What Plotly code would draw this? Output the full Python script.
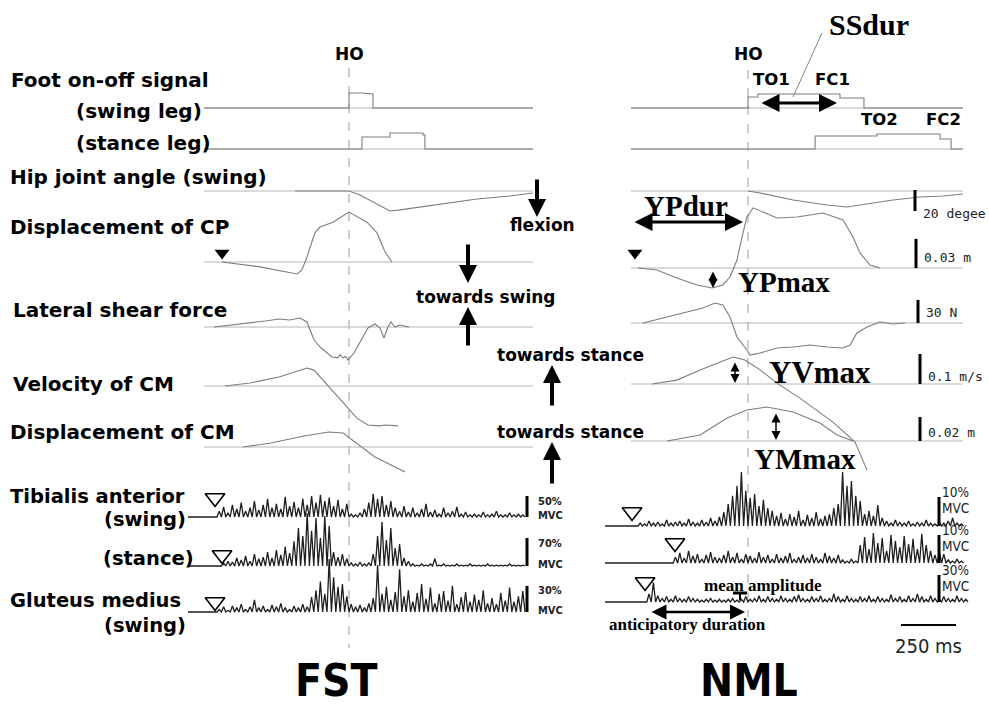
import plotly.graph_objects as go

# ---------------------------------------------------------------- data
PX_PER_MS = 0.22      # horizontal time scale (px per ms)
BIN_MS = 20           # EMG bin width
BAR_MS = 250          # time scale bar

# foot on-off signals (ms from heel-off, level a.u.)
FST_SWING_T = [-659, 0, 0, 60, 109, 109, 836]
FST_SWING_V = [0, 0, 1.0, 1.0, 0.93, 0, 0]
FST_STANCE_T = [-659, 59, 59, 186, 186, 336, 336, 345, 345, 836]
FST_STANCE_V = [0, 0, 0.8, 0.8, 1.07, 1.07, 0.93, 0.93, 0, 0]
NML_SWING_T = [-532, 0, 0, 45, 45, 418, 418, 527, 527, 977]
NML_SWING_V = [0, 0, 0.73, 0.73, 0.93, 0.93, 0.67, 0.67, 0, 0]
NML_STANCE_T = [-532, 305, 305, 586, 586, 873, 873, 923, 923, 977]
NML_STANCE_V = [0, 0, 0.87, 0.87, 1.0, 1.0, 0.67, 0.67, 0, 0]

# hip joint angle (deg)
FST_HIP_T = [-245, 0, 50, 118, 186, 232, 382, 582, 732, 836]
FST_HIP_V = [0, 0, -3.8, -11.4, -19, -18, -13.3, -7.6, -4.8, -1.9]
NML_HIP_T = [0, 55, 205, 359, 450, 541, 659, 782, 886, 977]
NML_HIP_V = [0, -1.9, -8.6, -13.3, -15.2, -12.4, -8.6, -5.7, -4.8, -2.9]

# displacement of CP (cm)
FST_CP_T = [-577, -405, -236, -214, -191, -155, -132, -73, 0, 50, 82, 127, 164, 195]
FST_CP_V = [0, -0.5, -1.24, -0.82, 0.52, 3.0, 3.6, 4.1, 5.15, 4.5, 4.1, 3.0, 1.03, 0]
NML_CP_T = [-500, -414, -323, -232, -164, -114, -82, -50, -27, -5, 23, 68, 132, 223, 341, 432, 477, 509, 555, 600]
NML_CP_V = [0, -0.2, -1.03, -1.75, -2.06, -1.75, -0.93, 0.82, 3.2, 5.26, 6.2, 5.8, 5.15, 5.26, 5.67, 4.95, 3.2, 1.55, 0.31, 0]

# lateral shear force (N)
FST_LSF_T = [-614, -450, -380, -318, -270, -223, -191, -159, -127, -77, -50, -40, -27, -15, -5, 23, 55, 86, 118, 141, 159, 177, 191, 209, 232, 273]
FST_LSF_V = [0, 5.2, 7.8, 10.4, 9.1, 11.7, 6.5, -16.9, -27.3, -39, -40, -36, -40.3, -38, -42.9, -33.8, -16.9, -1.3, 3.9, -1.3, -14.3, 0, 6.5, 0, 2.6, 0]
NML_LSF_T = [-477, -368, -264, -205, -150, -114, -82, -50, -5, 9, 55, 132, 205, 282, 359, 432, 464, 495, 541, 600, 659, 714]
NML_LSF_V = [0, 7.8, 14.3, 19.5, 26, 23.4, 7.8, -18.2, -35, -41.6, -39, -32.5, -31.2, -28.6, -31.2, -32.5, -28.6, -13, -5.2, 1.3, -1.3, 0]

# velocity of CM (m/s)
FST_VCM_T = [-564, -450, -318, -191, -159, -91, -27, 36, 86, 136, 168, 223]
FST_VCM_V = [0, 0.01, 0.03, 0.06, 0.053, -0.003, -0.057, -0.107, -0.13, -0.133, -0.13, -0.133]
NML_VCM_T = [-436, -323, -218, -127, -68, -14, 55, 132, 236, 386, 486, 541]
NML_VCM_V = [0, 0.013, 0.047, 0.073, 0.09, 0.08, 0.047, 0.003, -0.047, -0.127, -0.193, -0.287]

# displacement of CM (cm)
FST_DCM_T = [-482, -355, -205, -91, -27, 36, 118, 255]
FST_DCM_V = [0, 0.33, 0.92, 1.25, 1.17, 0.33, -0.83, -2.08]
NML_DCM_T = [-368, -218, -95, -5, 86, 205, 327, 405, 477]
NML_DCM_V = [0, 0.5, 1.92, 2.58, 2.83, 2.42, 1.5, 0.5, 0]

# rectified EMG, peak amplitude per 20 ms bin (% MVC)
FST_TA_SWING_T0 = -600
FST_TA_SWING = [14, 24, 10, 29, 19, 34, 14, 22, 38, 17, 29, 43, 22, 31, 19, 48, 26, 36, 22,
                43, 29, 50, 34, 53, 38, 46, 26, 41, 19, 31,
                7, 5, 10,
                19, 34, 55, 43, 50, 29, 38, 22,
                14, 26, 12, 22, 10, 19, 31, 12, 17, 7, 22, 10, 14, 24, 7, 12, 5,
                7, 5, 12, 5, 7, 14, 5, 5, 10, 5, 7, 5]
FST_TA_STANCE_T0 = -580
FST_TA_STANCE = [8, 12, 10, 20, 15, 25, 12, 30, 18, 22, 35, 20, 40, 28, 48, 32,
                 62, 95, 75, 132, 88, 120, 70, 125, 100,
                 35, 22, 30, 18,
                 8, 5, 10, 5, 8,
                 30, 75, 110, 65, 95, 45, 55,
                 20, 12,
                 5, 2, 5, 2, 5, 18, 2, 5, 2, 2, 5, 2, 2, 5, 2, 2, 2, 5, 2, 2, 2, 2, 5, 2, 2, 2]
FST_GM_T0 = -600
FST_GM = [3, 6, 2, 7, 5, 9, 3, 6, 14, 5, 7, 3, 8, 6, 10, 5, 3, 7, 5, 9, 6,
          17, 25, 35, 21, 61, 40, 29, 32, 18,
          9, 6, 8, 5, 10,
          16, 54, 21, 29, 14, 23, 49, 18, 25, 12, 22, 32, 15, 28, 10, 21, 24, 13, 30, 9,
          17, 23, 12, 20, 14, 25, 10, 16, 9, 22, 13, 28, 12, 18, 24]
NML_TA_SWING_T0 = -500
NML_TA_SWING = [1.0, 0.7, 1.7, 1.0, 1.4, 0.7, 2.1, 1.0, 1.4, 1.7, 1.0, 2.4, 1.4, 1.0, 2.1, 1.4, 2.8, 1.7, 3.1,
                4.8, 7.6, 10.4, 13.8, 18.6,
                12.1, 9.7, 11.0, 6.9, 9.0, 6.2, 5.2,
                3.5, 4.5, 2.4, 4.1, 3.1, 5.2, 2.1, 3.8, 2.8, 4.8, 2.4, 3.5, 4.1, 6.2, 7.6,
                18.6, 13.8, 15.5, 10.4, 8.6,
                4.1, 5.2, 3.5, 7.2, 2.8,
                1.7, 1.0, 2.1, 1.4, 1.0, 1.7, 0.7, 1.4, 1.0, 2.1, 1.0, 0.7, 1.4, 1.0, 1.7, 2.8, 1.0, 0.7]
NML_TA_STANCE_T0 = -340
NML_TA_STANCE = [2.1, 3.6, 1.8, 4.3, 2.5, 3.2, 1.4, 2.9, 3.9, 2.1, 1.8,
                 2.9, 4.3, 2.1, 3.6, 1.4, 3.2, 2.5, 1.8, 3.9, 2.1, 2.9, 1.4, 3.2, 1.8, 2.5, 3.6, 1.4,
                 2.1, 2.9, 1.8, 3.2, 2.1, 1.4, 3.6, 2.5, 1.8, 2.9,
                 1.1, 0.7, 1.4, 0.7,
                 6.4, 9.3, 5.0, 10.7, 7.1, 8.9, 4.3, 10.0, 7.9, 5.7, 9.6, 6.8, 8.6, 5.0, 10.4, 6.4,
                 4.3, 2.9, 3.9, 3.2,
                 1.1, 0.7, 1.4, 0.7]
NML_GM_T0 = -460
NML_GM = [9, 22, 7, 4, 6, 3, 7, 4, 3, 6, 4, 3, 2, 3, 4, 2, 3, 2, 3, 4,
          2, 3, 6, 3, 4, 7, 3, 6, 4, 3, 7, 4, 3, 6, 8, 4, 3, 6, 4, 7,
          3, 4, 9, 6, 3, 7, 4, 3, 6, 4, 7, 3, 6, 4, 3, 8, 4, 6, 3, 7,
          4, 9, 6, 3, 7, 4, 3, 6, 4, 3, 7, 4, 3]

# onset markers (ms from heel-off)
FST_CP_ONSET = -577
NML_CP_ONSET = -514
FST_EMG_ONSET = dict(ta_sw=-609, ta_st=-577, gm=-609)
NML_EMG_ONSET = dict(ta_sw=-527, ta_st=-332, gm=-468)

# scale bars
NML_SCALE = [("hip", 20, "20 degee"), ("cp", 3, "0.03 m"), ("lsf", 30, "30 N"),
             ("vcm", 0.1, "0.1 m/s"), ("dcm", 2, "0.02 m")]
FST_EMG_SCALE = [("ta_sw", 50, "50%"), ("ta_st", 70, "70%"), ("gm", 30, "30%")]
NML_EMG_SCALE = [("ta_sw", 10, "10%"), ("ta_st", 10, "10%"), ("gm", 30, "30%")]

# ---------------------------------------------------------------- layout / style
SANS = "DejaVu Sans, Verdana, sans-serif"
SERIF = "Liberation Serif, Times New Roman, serif"
NARROW = "Liberation Sans Narrow, DejaVu Sans Condensed, Liberation Sans, sans-serif"
MONO = "DejaVu Sans Mono, Liberation Mono, monospace"
TRACE_C = "#7d7d7d"
BASE_C = "#b5b5b5"
EMG_C = "#1e1e1e"

PANELS = {
    "FST": dict(ho=349, t_range=(-659, 836), emg_lead=-732, dash=(68, 648),
                rows=dict(swing=108, stance=149, hip=191, cp=262, lsf=327, vcm=386, dcm=447,
                          ta_sw=517, ta_st=566, gm=612)),
    "NML": dict(ho=748, t_range=(-532, 977), emg_lead=-650, dash=(70, 617),
                rows=dict(swing=108, stance=149, hip=191, cp=268, lsf=323, vcm=384, dcm=441,
                          ta_sw=526, ta_st=563, gm=602)),
}
GAIN = dict(swing=15, stance=15, hip=1.05, cp=9.7, lsf=0.77, vcm=300, dcm=12)
EMG_GAIN = {"FST": dict(ta_sw=0.42, ta_st=0.40, gm=0.87),
            "NML": dict(ta_sw=2.9, ta_st=2.8, gm=0.9)}

SIGNALS = {
    "FST": dict(swing=(FST_SWING_T, FST_SWING_V), stance=(FST_STANCE_T, FST_STANCE_V),
                hip=(FST_HIP_T, FST_HIP_V), cp=(FST_CP_T, FST_CP_V), lsf=(FST_LSF_T, FST_LSF_V),
                vcm=(FST_VCM_T, FST_VCM_V), dcm=(FST_DCM_T, FST_DCM_V)),
    "NML": dict(swing=(NML_SWING_T, NML_SWING_V), stance=(NML_STANCE_T, NML_STANCE_V),
                hip=(NML_HIP_T, NML_HIP_V), cp=(NML_CP_T, NML_CP_V), lsf=(NML_LSF_T, NML_LSF_V),
                vcm=(NML_VCM_T, NML_VCM_V), dcm=(NML_DCM_T, NML_DCM_V)),
}
EMG = {
    "FST": dict(ta_sw=(FST_TA_SWING_T0, FST_TA_SWING), ta_st=(FST_TA_STANCE_T0, FST_TA_STANCE),
                gm=(FST_GM_T0, FST_GM)),
    "NML": dict(ta_sw=(NML_TA_SWING_T0, NML_TA_SWING), ta_st=(NML_TA_STANCE_T0, NML_TA_STANCE),
                gm=(NML_GM_T0, NML_GM)),
}

fig = go.Figure()


def tx(panel, t):
    return PANELS[panel]["ho"] + t * PX_PER_MS


def line(xs, ys, color, width, dash=None):
    fig.add_trace(go.Scatter(x=xs, y=ys, mode="lines", hoverinfo="skip", cliponaxis=False,
                             line=dict(color=color, width=width, dash=dash)))


for name, P in PANELS.items():
    rows = P["rows"]
    t0, t1 = P["t_range"]
    # heel-off dashed line
    line([P["ho"], P["ho"]], list(P["dash"]), "#c2c2c2", 1.6, "dash")
    # baselines
    for key in ["swing", "stance", "hip", "cp", "lsf", "vcm", "dcm"]:
        line([tx(name, t0), tx(name, t1)], [rows[key], rows[key]], BASE_C, 1.1)
    # analog signals
    for key, (ts, vs) in SIGNALS[name].items():
        line([tx(name, t) for t in ts], [rows[key] - v * GAIN[key] for v in vs], TRACE_C, 1.1)
    # EMG
    for key, (e0, vals) in EMG[name].items():
        g = EMG_GAIN[name][key]
        base = rows[key]
        xs = [tx(name, P["emg_lead"])]
        ys = [base]
        for i, v in enumerate(vals):
            ts = e0 + i * BIN_MS
            xs += [tx(name, ts), tx(name, ts + BIN_MS / 2)]
            ys += [base, base - v * g]
        xs.append(tx(name, e0 + len(vals) * BIN_MS))
        ys.append(base)
        line(xs, ys, EMG_C, 1.3)

# onset markers
fig.add_trace(go.Scatter(
    x=[tx("FST", FST_CP_ONSET), tx("NML", NML_CP_ONSET)],
    y=[PANELS["FST"]["rows"]["cp"] - 9, PANELS["NML"]["rows"]["cp"] - 15],
    mode="markers", hoverinfo="skip", cliponaxis=False,
    marker=dict(symbol="triangle-down", size=13, color="black")))
ox, oy = [], []
for name, ons, lift in [("FST", FST_EMG_ONSET, dict(ta_sw=19, ta_st=11, gm=10)),
                        ("NML", NML_EMG_ONSET, dict(ta_sw=14, ta_st=20, gm=20))]:
    for key, t in ons.items():
        ox.append(tx(name, t))
        oy.append(PANELS[name]["rows"][key] - lift[key])
fig.add_trace(go.Scatter(x=ox, y=oy, mode="markers", hoverinfo="skip", cliponaxis=False,
                         marker=dict(symbol="triangle-down-open", size=17, color="black",
                                     line=dict(width=1.6, color="black"))))

ann = []


def label(text, x, y, size, family=SANS, anchor="left", weight="bold", color="black"):
    ann.append(dict(text=text, x=x, y=y, xref="x", yref="y", showarrow=False,
                    xanchor=anchor, yanchor="middle", borderpad=0,
                    font=dict(family=family, size=size, color=color, weight=weight)))


def arrow(x0, y0, x1, y1, width, size, head=2, double=False):
    ann.append(dict(text="", x=x1, y=y1, ax=x0, ay=y0, xref="x", yref="y", axref="x", ayref="y",
                    showarrow=True, arrowhead=head, startarrowhead=head, arrowwidth=width,
                    arrowsize=size, startarrowsize=size, arrowcolor="black",
                    arrowside="end+start" if double else "end", standoff=0, startstandoff=0))


# scale bars (NML analog)
for key, val, txt in NML_SCALE:
    base = PANELS["NML"]["rows"][key]
    h = val * GAIN[key]
    xb = {"hip": 915, "cp": 916, "lsf": 918, "vcm": 920, "dcm": 920}[key]
    if key == "hip":
        line([xb, xb], [base - 1, base - 1 + h], "black", 3)
        label(txt, xb + 7, base + h + 1, 13, MONO, weight="normal", color="#222")
    else:
        line([xb, xb], [base, base - h], "black", 3)
        ty = {"cp": base - 11, "lsf": base - 11, "vcm": base - 8, "dcm": base - 9}[key]
        label(txt, xb + 7, ty, 13, MONO, weight="normal", color="#222")

# EMG scale bars
for name, scl, xb in [("FST", FST_EMG_SCALE, 527), ("NML", NML_EMG_SCALE, 939)]:
    for key, val, txt in scl:
        base = PANELS[name]["rows"][key]
        h = val * EMG_GAIN[name][key]
        line([xb, xb], [base, base - h], "black", 3)
        if name == "FST":
            label(txt, xb + 23, base - h + 5, 11, NARROW, anchor="center", color="#222")
            label("MVC", xb + 23, base - 2, 11, NARROW, anchor="center", color="#222")
        else:
            label(txt, xb + 16, base - h - 5, 13.5, NARROW, anchor="center", weight="normal", color="#222")
            label("MVC", xb + 16, base - h + 11, 13.5, NARROW, anchor="center", weight="normal", color="#222")

# time scale bar
bx1 = 956
line([bx1 - BAR_MS * PX_PER_MS, bx1], [625, 625], "black", 2)
label(f"{BAR_MS} ms", bx1 - BAR_MS * PX_PER_MS / 2, 646, 20, NARROW, anchor="center", weight="normal", color="#222")

# mean amplitude mark & SSdur leader
line([733, 747], [593, 593], "black", 3)
line([740, 740], [593, 600], "black", 2)
line([822, 793], [33, 97], "#888888", 1)

# left labels
label("Foot on-off signal", 10, 80, 20)
label("(swing leg)", 75, 111, 20)
label("(stance leg)", 75, 143, 20)
label("Hip joint angle (swing)", 9, 177, 20)
label("Displacement of CP", 9, 227, 20)
label("Lateral shear force", 12, 310, 20)
label("Velocity of CM", 12, 384, 20)
label("Displacement of CM", 9, 432, 20)
label("Tibialis anterior", 9, 496, 19.5)
label("(swing)", 103, 519, 19.5)
label("(stance)", 102, 558, 19.5)
label("Gluteus medius", 9, 600, 19.5)
label("(swing)", 103, 625, 19.5)

# direction labels
label("flexion", 542, 225, 17, anchor="center")
label("towards swing", 486, 297, 17, anchor="center")
label("towards stance", 570, 355, 17, anchor="center")
label("towards stance", 570, 432, 17, anchor="center")
arrow(537, 178, 537, 217, 4, 0.9)
arrow(468, 243, 468, 283, 4, 0.9)
arrow(468, 347, 468, 307, 4, 0.9)
arrow(552, 407, 552, 365, 4, 0.9)
arrow(552, 485, 552, 442, 4, 0.9)

# event labels
label("HO", 349, 54, 17, anchor="center")
label("HO", 748, 54, 17, anchor="center")
label("TO1", 752, 79, 16.5)
label("FC1", 814, 79, 16.5)
label("TO2", 860, 119, 16.5)
label("FC2", 925, 119, 16.5)

# parameter labels (serif)
label("SSdur", 828, 24, 30, SERIF)
label("YPdur", 643, 206, 29, SERIF)
label("YPmax", 737, 282, 29, SERIF)
label("YVmax", 768, 372, 31, SERIF)
label("YMmax", 753, 459, 29, SERIF)
label("mean amplitude", 703, 585, 17, SERIF)
label("anticipatory duration", 608, 624, 17, SERIF)
arrow(760, 103, 837, 103, 3, 1.2, double=True)
arrow(633, 222, 743, 222, 3, 1.2, double=True)
arrow(650, 612, 745, 612, 2.5, 1.2, double=True)
arrow(713, 270, 713, 288, 1.5, 1.2, double=True)
arrow(735, 361, 735, 383, 1.5, 1.2, double=True)
arrow(776, 412, 776, 440, 1.5, 1.2, double=True)

# condition titles
label("FST", 336, 680, 44, NARROW, anchor="center", weight=900)
label("NML", 749, 680, 44, NARROW, anchor="center", weight=900)

fig.update_layout(
    width=989, height=707, margin=dict(l=0, r=0, t=0, b=0),
    paper_bgcolor="white", plot_bgcolor="white", showlegend=False,
    xaxis=dict(range=[0, 989], visible=False, fixedrange=True),
    yaxis=dict(range=[707, 0], visible=False, fixedrange=True),
    annotations=ann, hovermode=False,
)

fig.write_html("out.html", config={"displayModeBar": False, "staticPlot": True},
               post_script="document.body.style.margin='0';document.body.style.padding='0';")
